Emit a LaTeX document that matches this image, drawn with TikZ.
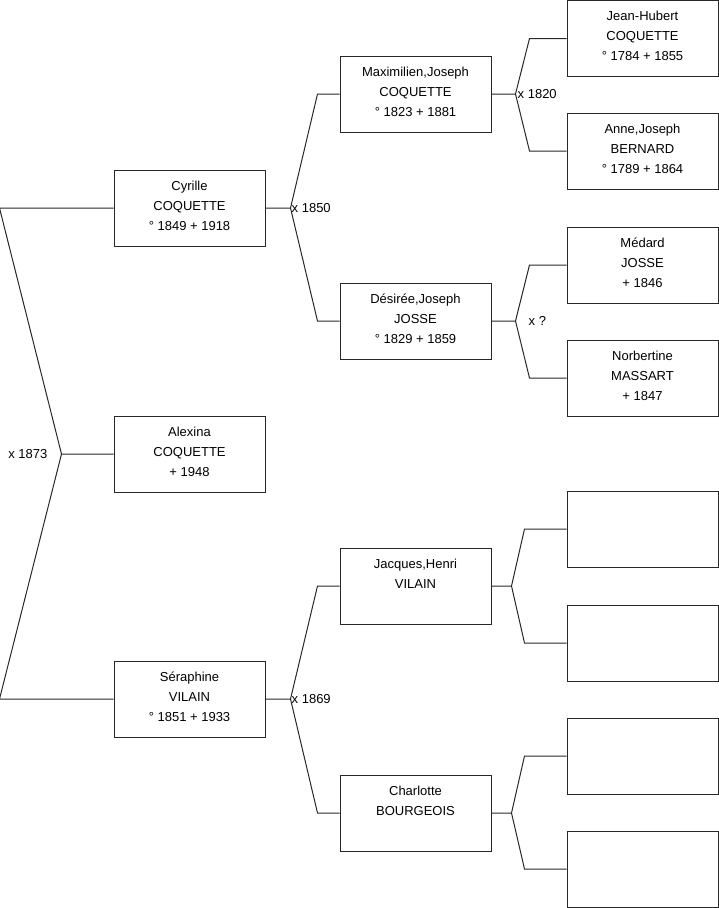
\documentclass[tikz,border=0pt]{standalone}
\usepackage{fontspec}
\setmainfont{Liberation Sans}
\usetikzlibrary{positioning,calc}
\definecolor{LineGray}{RGB}{40,40,40}
\tikzset{
	box/.style={draw=LineGray,line width=1pt,fill=white,minimum width=151pt,minimum height=76pt,inner sep=0pt},
	who/.style={anchor=north,align=center,inner sep=0pt,yshift=-11pt,font=\fontsize{13}{20}\selectfont},
	link/.style={draw=LineGray,line width=1pt},
	wed/.style={inner sep=1pt,font=\fontsize{13}{15}\selectfont},
}

\begin{document}
\begin{tikzpicture}[x=1pt,y=-1pt]
	\useasboundingbox (0,0) rectangle (719,908);
	% generation 1 and 2
	\node[box,label={[who]north:Cyrille\\COQUETTE\\° 1849 + 1918}] (cyr) at (189.5,208) {};
	\node[box,label={[who]north:Alexina\\COQUETTE\\+ 1948}] (alex) at (189.5,454) {};
	\node[box,label={[who]north:Séraphine\\VILAIN\\° 1851 + 1933}] (sera) at (189.5,699) {};
	% generation 3
	\node[box,label={[who]north:Maximilien,Joseph\\COQUETTE\\° 1823 + 1881}] (maxi) at (415.5,94) {};
	\node[box,label={[who]north:Désirée,Joseph\\JOSSE\\° 1829 + 1859}] (desi) at (415.5,321) {};
	\node[box,label={[who]north:Jacques,Henri\\VILAIN}] (jacq) at (415.5,586) {};
	\node[box,label={[who]north:Charlotte\\BOURGEOIS}] (charl) at (415.5,813) {};
	% generation 4
	\node[box,label={[who]north:Jean-Hubert\\COQUETTE\\° 1784 + 1855}] (jean) at (642.5,38.5) {};
	\node[box,label={[who]north:Anne,Joseph\\BERNARD\\° 1789 + 1864}] (anne) at (642.5,151) {};
	\node[box,label={[who]north:Médard\\JOSSE\\+ 1846}] (meda) at (642.5,265) {};
	\node[box,label={[who]north:Norbertine\\MASSART\\+ 1847}] (norb) at (642.5,378) {};
	\foreach \n/\y in {e1/529,e2/643,e3/756,e4/869}
	\node[box] (\n) at (642.5,\y) {};

	% parents forks
	\foreach \p/\a/\b/\dx/\kx in {cyr/maxi/desi/25/22,sera/jacq/charl/25/22,maxi/jean/anne/24/37,desi/meda/norb/24/37,jacq/e1/e2/20/42,charl/e3/e4/20/42}
	{
		\draw[link] (\p.east) -- ++(\dx,0) coordinate (\p F) -- ([xshift=-\kx]\a.west) -- (\a.west);
		\draw[link] (\p F) -- ([xshift=-\kx]\b.west) -- (\b.west);
	}
	\draw[link] (alex.west) -- ++(-52,0) coordinate (alexF) -- ([xshift=-114]cyr.west) -- (cyr.west);
	\draw[link] (alexF) -- ([xshift=-114]sera.west) -- (sera.west);

	% marriages
	\node[wed,left=13pt of alexF] (w1873) {x 1873};
	\node[wed,right=0pt of cyrF] (w1850) {x 1850};
	\node[wed,right=1pt of maxiF] (w1820) {x 1820};
	\node[wed,right=12pt of desiF] (wq) {x ?};
	\node[wed,right=0pt of seraF] (w1869) {x 1869};
\end{tikzpicture}
\end{document}
